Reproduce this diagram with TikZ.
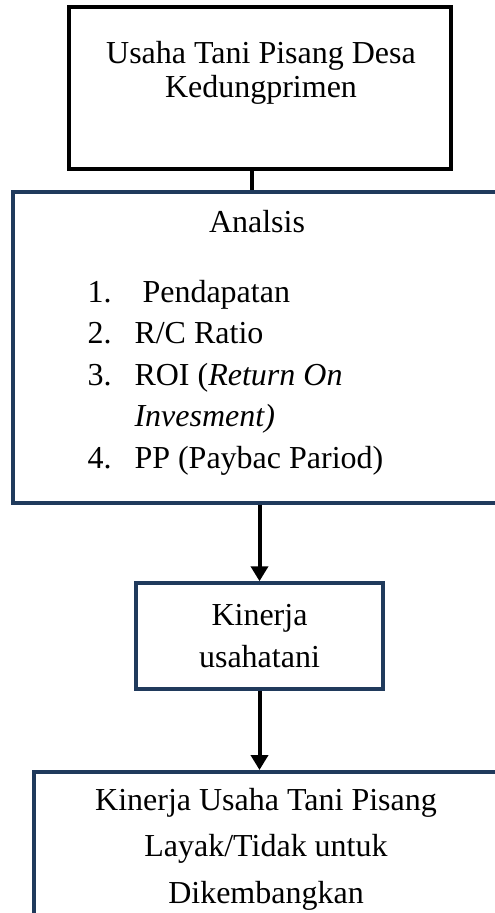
\documentclass[tikz,border=0pt]{standalone}
\usepackage{fontspec}
\setmainfont{Liberation Serif}
\usetikzlibrary{arrows.meta}
\definecolor{biru}{HTML}{203A5C}
\begin{document}
\begin{tikzpicture}[x=1pt,y=-1pt]
    \tikzstyle{every node}=[font=\fontsize{32}{34}\selectfont]
    \tikzstyle{kotak}=[draw=biru,line width=3.5pt,inner sep=0pt]
    \tikzstyle{panah}=[line width=4pt,-{Triangle[width=17pt,length=15pt]}]
    \def\tab{47pt}
    \useasboundingbox (0,0) rectangle (495,913);
    % kotak atas
    \node[kotak,draw=black,line width=4.5pt,minimum width=382pt,minimum height=162pt] (usaha) at (260,88) {};
    \node[align=center,anchor=base] (usahaTxt) at (261,97) {Usaha Tani Pisang Desa\\Kedungprimen};
    % analisis
    \node[kotak,minimum width=494pt,minimum height=311pt] (analisis) at (260,347.5) {};
    \node[anchor=base] (analisisTxt) at (257,232) {Analsis};
    \node[anchor=base west,align=left,font=\fontsize{32}{41.5}\selectfont] (daftar) at (84,468)
      {\makebox[\tab][l]{1.}\hspace{8pt}Pendapatan\\
       \makebox[\tab][l]{2.}R/C Ratio\\
       \makebox[\tab][l]{3.}ROI (\textit{Return On}\\
       \hspace{\tab}\textit{Invesment)}\\
       \makebox[\tab][l]{4.}PP (Paybac Pariod)};
    % kinerja
    \node[kotak,minimum width=247pt,minimum height=106pt,align=center,font=\fontsize{32}{42}\selectfont] (kinerja) at (259.5,636) {Kinerja\\usahatani};
    % hasil
    \node[kotak,minimum width=475pt,minimum height=200pt,anchor=north west] (hasil) at (32,770) {};
    \node[align=center,anchor=base,font=\fontsize{32}{46.5}\selectfont] (hasilTxt) at (266,903)
      {Kinerja Usaha Tani Pisang\\Layak/Tidak untuk\\Dikembangkan};
    % garis
    \coordinate (sambung) at ([xshift=-8pt]usaha.south);
    \draw[line width=4pt] (sambung) -- (sambung |- analisis.north);
    \draw[panah] (kinerja.north |- analisis.south) -- (kinerja.north);
    \draw[panah] (kinerja.south) -- (kinerja.south |- hasil.north);
\end{tikzpicture}
\end{document}
